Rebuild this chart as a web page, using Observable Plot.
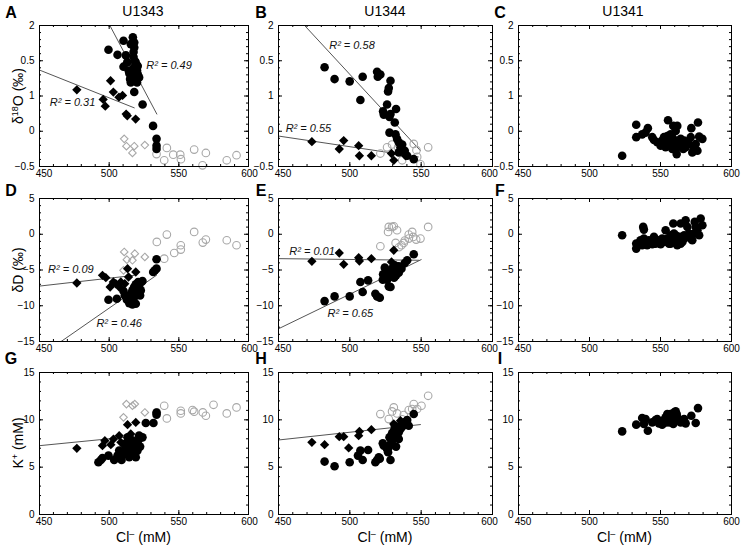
<!DOCTYPE html>
<html><head><meta charset="utf-8">
<script src="https://cdn.jsdelivr.net/npm/d3@7"></script>
<script src="https://cdn.jsdelivr.net/npm/@observablehq/plot@0.6"></script>
<style>
body{margin:0;background:#fff;}
#chart{position:relative;width:743px;height:546px;font-family:"Liberation Sans",Arial,sans-serif;color:#000;overflow:hidden;}
.abs{position:absolute;white-space:nowrap;transform:translate(-50%,-50%);line-height:1;}
.letter{font-weight:bold;font-size:16px;}
.title{font-size:14px;}
.ytitle{font-size:14px;transform:translate(-50%,-50%) rotate(-90deg);}
.xtitle{font-size:14px;}
sup{font-size:9px;vertical-align:5px;line-height:0;}
</style></head><body><div id="chart"></div>
<script>
// ---------- axis ticks ----------
const xTicks = [450, 500, 550, 600];
const d18OTickLabels = ["−0.5", "0", "1", "0.5", "2"];
const dDTicks = [-15, -10, -5, 0, 5];
const kTicks = [0, 5, 10, 15];

// ---------- U1343 (column 1) ----------
const A_circles = [[499.5,1.57],[506,1.48],[510.3,1.73],[512,1.47],[510.3,1.27],[513,1.35],[514,1.2],[517,1.79],[518,1.7],[515.5,1.67],[518,1.61],[517.5,1.53],[519,1.35],[520,1.29],[518,1.26],[520,1.2],[517,1.23],[515,1.05],[517,1.02],[519.5,1.02],[520,0.99],[521.5,1.08],[515.5,0.99],[518,0.82],[524,0.6],[531.5,0.22],[534,-0.01],[534,-0.13],[534,-0.19],[517.5,1.44],[518.5,1.36],[520.5,1.28],[516.5,1.12],[514.5,1.15],[520.5,1.14]];
const A_diamonds = [[476.8,0.86],[501,1.02],[503,0.82],[507,0.73],[509.6,0.76],[495.7,0.69],[497.2,0.57],[513,0.4],[512.2,0.43],[519,0.34]];
const A_openDiamonds = [[510.8,-0.01],[512.4,-0.14],[516.7,-0.26],[518,-0.14],[525.6,-0.12]];
const A_openCircles = [[534,-0.28],[539.5,-0.39],[541.4,-0.17],[546,-0.29],[551,-0.29],[551.5,-0.37],[561,-0.2],[567,-0.48],[569.4,-0.26],[584.4,-0.39],[591.4,-0.3]];
const A_fitCircles = [[500.5,2],[534.2,0.43]];
const A_fitDiamonds = [[450,1.21],[518,0.54]];
const A_notes = [{x:543,y:1.29,t:"R² = 0.49"},{x:473.7,y:0.64,t:"R² = 0.31"}];

const D_circles = [[499.5,-9.16],[505.5,-9.02],[510.3,-7.94],[511.2,-8.55],[512.7,-9.16],[514.4,-9.63],[515.6,-8.32],[516.7,-7.85],[517.9,-7.38],[519.1,-7.01],[519.9,-7.62],[517.9,-8.79],[516.7,-9.25],[519.1,-8.55],[520.3,-8.08],[520.8,-6.68],[521.5,-7.38],[522.7,-7.85],[523.2,-6.68],[522.2,-8.55],[519.1,-9.72],[516.7,-9.81],[523.9,-6.54],[531.6,-5.28],[532.8,-5.05],[534,-4.81],[534,-3.5]];
const D_diamonds = [[476.8,-6.82],[495.2,-5.75],[497.6,-6.07],[500.7,-7.38],[503,-6.68],[504.8,-6.92],[507.2,-7.38],[508.4,-6.68],[513.2,-4.81],[513.9,-5.98],[511.2,-6.92],[519.1,-5.28]];
const D_openDiamonds = [[510.8,-2.48],[512.7,-3.55],[516.7,-3.64],[518.4,-2.71],[525.6,-3.18],[510.3,-5.05]];
const D_openCircles = [[534.2,-1.07],[541.4,-0.05],[539.5,-3.41],[546.7,-2.62],[551.4,-2.15],[551.4,-1.54],[561,0.33],[567.2,-1.17],[569.4,-0.75],[584.4,-0.84],[591.4,-1.54]];
const D_fitCircles = [[465.5,-15],[534,-5.73]];
const D_fitDiamonds = [[450,-7.25],[518,-5.75]];
const D_notes = [{x:472.5,y:-4.9,t:"R² = 0.09"},{x:507.2,y:-12.43,t:"R² = 0.46"}];

const G_circles = [[492.3,5.52],[494,5.76],[495.2,5.97],[499.5,6.22],[503.6,5.76],[506,6.22],[507.2,6.75],[508.9,5.76],[510.3,6.39],[511.2,6.82],[512.7,7.27],[514.4,6.04],[515.6,6.75],[516.7,6.92],[517.9,7.1],[519.1,7.45],[520.3,7.62],[521.5,7.97],[516.7,7.8],[514.4,7.45],[515.6,6.39],[517.9,6.39],[520.3,6.75],[519.1,6.04],[513.2,8.15],[510.8,7.45],[522.2,7.17],[523.9,8.15],[521.5,8.33],[526.3,9.66],[531.8,9.66],[534,10.54],[534,10.78]];
const G_diamonds = [[476.8,6.99],[495.2,7.27],[496.9,7.8],[501.2,7.38],[503.1,7.97],[507.2,8.33],[508.4,7.62],[513.2,9.49],[519.1,9.73],[515.5,8.5],[513.2,7.8]];
const G_openDiamonds = [[510.3,10.26],[512.4,11.66],[516.7,11.49],[518.4,11.66],[525.6,10.78]];
const G_openCircles = [[534.2,10.78],[539.5,11.49],[541.4,10.15],[551.4,10.96],[551.4,10.68],[559.8,11.03],[561,10.86],[567.2,10.78],[569.4,10.43],[574.9,11.59],[584.4,10.68],[591.4,11.31]];
const G_fitDiamonds = [[450,7.27],[518,8.26]];

// ---------- U1344 (column 2) ----------
const B_circles = [[482.3,1.26],[489.3,1.05],[499.9,1.01],[509,1.09],[507.4,0.68],[519.1,1.18],[519.6,1.09],[521.4,1.13],[528.5,1.02],[527.3,0.89],[526.8,0.83],[526.1,0.6],[523.3,0.48],[523.8,0.42],[528.5,0.43],[527.8,0.38],[532.4,0.52],[531.5,0.28],[527.8,0.1],[532,0.07],[533.1,-0.01],[534.3,-0.07],[535.5,-0.16],[536.7,-0.11],[538.5,-0.22],[540.2,-0.31],[544.8,-0.37],[534.3,-0.25]];
const B_diamonds = [[473.4,-0.06],[492.6,-0.19],[495.7,-0.04],[506.2,-0.13],[506.7,-0.31],[515.1,-0.31],[529.2,-0.27],[530.8,-0.39],[539,-0.31]];
const B_openCircles = [[521.4,-0.27],[526.1,-0.16],[529.6,-0.11],[533.8,-0.16],[544.8,-0.1],[546.7,-0.21],[554.9,-0.16],[547.2,-0.33],[549.5,-0.46],[536.7,-0.39]];
const B_fitCircles = [[468.3,2],[549.5,-0.22]];
const B_fitDiamonds = [[450,0.04],[548,-0.33]];
const B_notes = [{x:501.5,y:1.64,t:"R² = 0.58"},{x:471,y:0.18,t:"R² = 0.55"}];

const E_circles = [[482.3,-9.35],[489.3,-8.69],[499.9,-8.69],[507.4,-6.68],[509,-8.08],[512.8,-6.45],[517.9,-8.32],[519.1,-8.69],[521,-8.88],[523.1,-6.36],[523.3,-5.61],[524.5,-4.67],[526.1,-6.36],[526.8,-5.75],[527.3,-7.29],[528.5,-7.38],[527.8,-5.14],[529.6,-4.81],[529.6,-5.75],[531.5,-4.35],[532.4,-5.75],[533.1,-4.95],[534.3,-4.49],[536.2,-4.81],[538.5,-4.02],[540.2,-3.64],[544.8,-2.8],[531,-6.08],[534.3,-5.37]];
const E_diamonds = [[473.4,-3.79],[492.6,-2.62],[495.7,-4.21],[506.2,-3.27],[506.7,-3.74],[515.1,-3.41],[530.8,-2.24],[529.2,-3.88],[539,-3.88]];
const E_openCircles = [[521.4,-1.68],[526.8,0.33],[529.6,1.03],[530.8,1.12],[533.1,0.56],[527.3,1.03],[536.2,-1.54],[537.8,-1.21],[541.3,-0.61],[543.7,0.33],[544.4,-0.37],[546.5,-0.75],[549.5,-0.61],[554.9,1.03],[541.3,-0.05],[538.5,-0.88],[532.1,-1.21],[534.4,-1.82]];
const E_fitCircles = [[450,-13.22],[550,-3.55]];
const E_fitDiamonds = [[450,-3.41],[548.4,-3.64]];
const E_notes = [{x:473.5,y:-2.34,t:"R² = 0.01"},{x:500.4,y:-11.1,t:"R² = 0.65"}];

const H_circles = [[482.3,5.59],[489.3,5.1],[499.9,5.52],[507.4,6.75],[509,5.76],[512.8,6.82],[505.7,6.22],[517.9,5.52],[519.1,5.76],[520.3,6.04],[521,5.9],[523.1,7.52],[523.8,7.27],[526.1,6.92],[526.8,6.57],[527.3,7.1],[528.5,5.76],[527.8,8.15],[529.6,8.57],[530.8,8.85],[531.5,9.38],[532.4,7.17],[533.1,8.33],[534.3,8.68],[535.5,9.03],[536.2,9.56],[536.7,9.27],[538.5,9.73],[540.2,9.98],[541.3,9.38],[544.8,10.61],[529.6,7.8],[528.5,7.45],[534.3,7.97]];
const H_diamonds = [[473.4,7.62],[482.3,7.38],[492.6,8.22],[495.7,8.22],[499.2,7.03],[506.2,8.33],[506.7,8.78],[515.1,8.96],[530.8,9.56],[535.5,9.91]];
const H_openCircles = [[521.4,10.61],[527.3,10.08],[529.6,10.89],[530.8,11.31],[533.1,10.68],[537.8,10.5],[541.3,11.03],[543.7,11.14],[544.8,11.66],[547.2,11.14],[550.2,11.49],[554.9,12.54],[536.7,10.05]];
const H_fitDiamonds = [[450,7.87],[549.5,9.5]];

// ---------- U1341 (column 3) ----------
const C_circles = [[523,-0.31],[532.9,0.24],[532.9,0.02],[537.1,0.07],[541.1,0.18],[539.5,0.1],[544.2,0.02],[545.4,-0.03],[547.7,-0.07],[550.1,-0.13],[553.6,-0.16],[555.3,0.32],[554.8,0.04],[557.1,0.07],[558.3,0.02],[559,0.22],[561.8,0.22],[560.7,0.13],[560.7,-0.04],[561.8,-0.16],[561.4,-0.28],[565.4,-0.1],[564.2,-0.01],[567.7,-0.16],[568.9,-0.07],[571.3,0.02],[571.7,0.18],[576.4,0.28],[573.6,-0.19],[572.4,-0.25],[576,-0.22],[577.2,0.03],[579.5,-0.01],[574.8,-0.1],[557.1,-0.1],[552.4,0.02],[554.8,-0.07],[558.3,-0.19],[563,-0.1],[566.6,-0.04],[570.1,-0.1],[559.5,-0.13],[551.2,-0.04],[566.1,-0.19]];
const F_circles = [[523,-0.14],[537.8,1.03],[538.3,0.65],[532.9,-1.31],[532.9,-2.01],[535.9,-0.84],[538.3,-0.61],[540.6,-1.54],[542.5,-1.07],[545.4,-0.37],[546.5,-1.31],[548.9,-0.84],[550.1,-1.4],[552.4,-1.07],[553.6,0.56],[554.8,-0.61],[556,-1.31],[557.1,-0.14],[558.3,-1.07],[559,1.5],[559.5,0.09],[560.7,-0.61],[561.8,-1.54],[563,-0.84],[564.2,1.5],[565.4,-1.07],[566.6,-0.14],[567.7,1.96],[568.9,1.03],[570.1,0.09],[571.3,-0.61],[572.4,-0.84],[573.6,0.09],[574.1,1.73],[576,0.56],[577.2,-0.14],[578.3,2.2],[579.5,1.26],[574.8,1.03],[566.6,-0.61],[564.2,-1.31],[558.3,-0.37],[560.7,-0.14],[563,-0.37],[557.1,-1.31],[553.6,-0.84],[551.2,-0.61],[547.7,-1.07],[544.2,-1.4],[541.8,-0.84],[539.5,-1.07],[537.1,-1.54],[534.8,-1.31],[559.5,-1.07],[561.8,-0.84]];
const I_circles = [[523,8.78],[532.9,9.49],[537.1,10.19],[538.3,9.56],[539.5,10.08],[541.1,8.85],[544.2,9.73],[546.5,9.98],[547.7,10.08],[548.9,9.63],[550.1,9.8],[551.2,9.49],[552.4,9.98],[553.6,10.26],[554.8,10.61],[556,10.08],[556.7,9.73],[557.1,10.61],[558.3,10.33],[559,9.56],[559.5,10.78],[560.7,10.89],[561.4,10.61],[561.8,10.26],[563,9.98],[564.2,9.73],[566.6,10.08],[567.7,9.63],[571.7,10.43],[574.8,9.66],[576.4,11.24],[554.3,9.73],[558.3,9.91],[560.7,9.98],[556,10.43]];

// ---------- layout ----------
const cols = [{l:39,r:248,lastDx:1},{l:278,r:492,lastDx:-3},{l:518,r:731,lastDx:0}];
const rows = [{t:25,b:166},{t:198,b:341},{t:372,b:514}];
const ML = 36, MR = 6, MT = 6, MB = 22;
const MAJOR = 4, MINOR = 2; // tick lengths in px

const d18ODomain = [-0.5, 2];
const d18OTicks = d3.range(5).map(i => d18ODomain[0] + i * (d18ODomain[1] - d18ODomain[0]) / 4);
const rowScales = [
  {domain: d18ODomain, ticks: d18OTicks, fmt: d => d18OTickLabels[d18OTicks.indexOf(d)],
   minor: d3.range(21).map(i => d18ODomain[0] + i * (d18ODomain[1] - d18ODomain[0]) / 20)},
  {domain: [-15, 5], ticks: dDTicks, fmt: d3.format(""), minor: d3.range(-15, 5.01, 1)},
  {domain: [0, 15], ticks: kTicks, fmt: d3.format(""), minor: d3.range(0, 15.01, 1)}
];
const xDomain = [450, 600];
const xMinor = d3.range(450, 600.01, 10);

const panels = [
  {c:0,r:0,circles:A_circles,diamonds:A_diamonds,openD:A_openDiamonds,openC:A_openCircles,fits:[A_fitCircles,A_fitDiamonds],notes:A_notes},
  {c:0,r:1,circles:D_circles,diamonds:D_diamonds,openD:D_openDiamonds,openC:D_openCircles,fits:[D_fitCircles,D_fitDiamonds],notes:D_notes},
  {c:0,r:2,circles:G_circles,diamonds:G_diamonds,openD:G_openDiamonds,openC:G_openCircles,fits:[G_fitDiamonds],notes:[]},
  {c:1,r:0,circles:B_circles,diamonds:B_diamonds,openD:[],openC:B_openCircles,fits:[B_fitCircles,B_fitDiamonds],notes:B_notes},
  {c:1,r:1,circles:E_circles,diamonds:E_diamonds,openD:[],openC:E_openCircles,fits:[E_fitCircles,E_fitDiamonds],notes:E_notes},
  {c:1,r:2,circles:H_circles,diamonds:H_diamonds,openD:[],openC:H_openCircles,fits:[H_fitDiamonds],notes:[]},
  {c:2,r:0,circles:C_circles,diamonds:[],openD:[],openC:[],fits:[],notes:[]},
  {c:2,r:1,circles:F_circles,diamonds:[],openD:[],openC:[],fits:[],notes:[]},
  {c:2,r:2,circles:I_circles,diamonds:[],openD:[],openC:[],fits:[],notes:[]}
];

const chart = document.getElementById("chart");
const X = d => d[0], Y = d => d[1];

function tickMarks(w, h, ys) {
  const [y0, y1] = ys.domain, [x0, x1] = xDomain;
  const py = (y1 - y0) / h, px = (x1 - x0) / w;
  const m = [];
  for (const [vals, len] of [[xTicks, MAJOR], [xMinor, MINOR]]) {
    m.push(Plot.ruleX(vals, {x: d => d, y1: y0, y2: y0 + len * py, stroke: "black", strokeWidth: 1}));
    m.push(Plot.ruleX(vals, {x: d => d, y1: y1, y2: y1 - len * py, stroke: "black", strokeWidth: 1}));
  }
  for (const [vals, len] of [[ys.ticks, MAJOR], [ys.minor, MINOR]]) {
    m.push(Plot.ruleY(vals, {y: d => d, x1: x0, x2: x0 + len * px, stroke: "black", strokeWidth: 1}));
    m.push(Plot.ruleY(vals, {y: d => d, x1: x1, x2: x1 - len * px, stroke: "black", strokeWidth: 1}));
  }
  return m;
}

for (const p of panels) {
  const col = cols[p.c], row = rows[p.r], ys = rowScales[p.r];
  const w = col.r - col.l, h = row.b - row.t;
  const svg = Plot.plot({
    width: w + ML + MR, height: h + MT + MB,
    marginLeft: ML, marginRight: MR, marginTop: MT, marginBottom: MB,
    style: {background: "transparent", overflow: "visible", fontFamily: "Liberation Sans, Arial, sans-serif", fontSize: "10px", color: "black"},
    x: {domain: xDomain},
    y: {domain: ys.domain},
    marks: [
      ...p.fits.map(f => Plot.line(f, {x: X, y: Y, stroke: "#555", strokeWidth: 1, clip: true})),
      Plot.dot(p.openC, {x: X, y: Y, r: 3.8, stroke: "#a8a8a8", strokeWidth: 1.1, fill: "none"}),
      Plot.dot(p.openD, {x: X, y: Y, r: 3.4, symbol: "diamond2", stroke: "#a8a8a8", strokeWidth: 1.1, fill: "none"}),
      Plot.dot(p.circles, {x: X, y: Y, r: 4.3, fill: "black"}),
      Plot.dot(p.diamonds, {x: X, y: Y, r: 4.2, symbol: "diamond2", fill: "black"}),
      Plot.text(p.notes, {x: "x", y: "y", text: "t", fontStyle: "italic", fontSize: 11, fill: "#111"}),
      ...tickMarks(w, h, ys),
      Plot.frame({stroke: "black", strokeWidth: 1}),
      Plot.axisX(xTicks.slice(1, 3), {anchor: "bottom", tickSize: 0, tickPadding: 3, label: null, fontSize: 10}),
      Plot.axisX(xTicks.slice(0, 1), {anchor: "bottom", tickSize: 0, tickPadding: 3, dx: 4.5, label: null, fontSize: 10}),
      Plot.axisX(xTicks.slice(3), {anchor: "bottom", tickSize: 0, tickPadding: 3, dx: col.lastDx, label: null, fontSize: 10}),
      Plot.axisY(ys.ticks, {anchor: "left", tickSize: 0, tickPadding: 5, tickFormat: ys.fmt, label: null, fontSize: 10})
    ]
  });
  const wrap = document.createElement("div");
  wrap.style.position = "absolute";
  wrap.style.left = (col.l - ML) + "px";
  wrap.style.top = (row.t - MT) + "px";
  wrap.appendChild(svg);
  chart.appendChild(wrap);
}

function addText(html, cls, x, y) {
  const d = document.createElement("div");
  d.className = "abs " + cls;
  d.style.left = x + "px";
  d.style.top = y + "px";
  d.innerHTML = html;
  chart.appendChild(d);
}
const siteTitles = ["U1343", "U1344", "U1341"];
const titleX = [143, 385, 623];
siteTitles.forEach((t, i) => addText(t, "title", titleX[i], 11));
const letters = [["A","B","C"],["D","E","F"],["G","H","I"]];
const letterX = [11, 261, 500];
const letterY = [12.5, 191, 359];
letters.forEach((rowL, r) => rowL.forEach((L, c) => addText(L, "letter", letterX[c], letterY[r])));
const yTitles = ["δ<sup>18</sup>O (‰)", "δD (‰)", "K<sup>+</sup> (mM)"];
yTitles.forEach((t, r) => addText(t, "ytitle", 18, (rows[r].t + rows[r].b) / 2));
const xTitle = "Cl<sup>–</sup> (mM)";
cols.forEach(c => addText(xTitle, "xtitle", (c.l + c.r) / 2, 537));
</script></body></html>
